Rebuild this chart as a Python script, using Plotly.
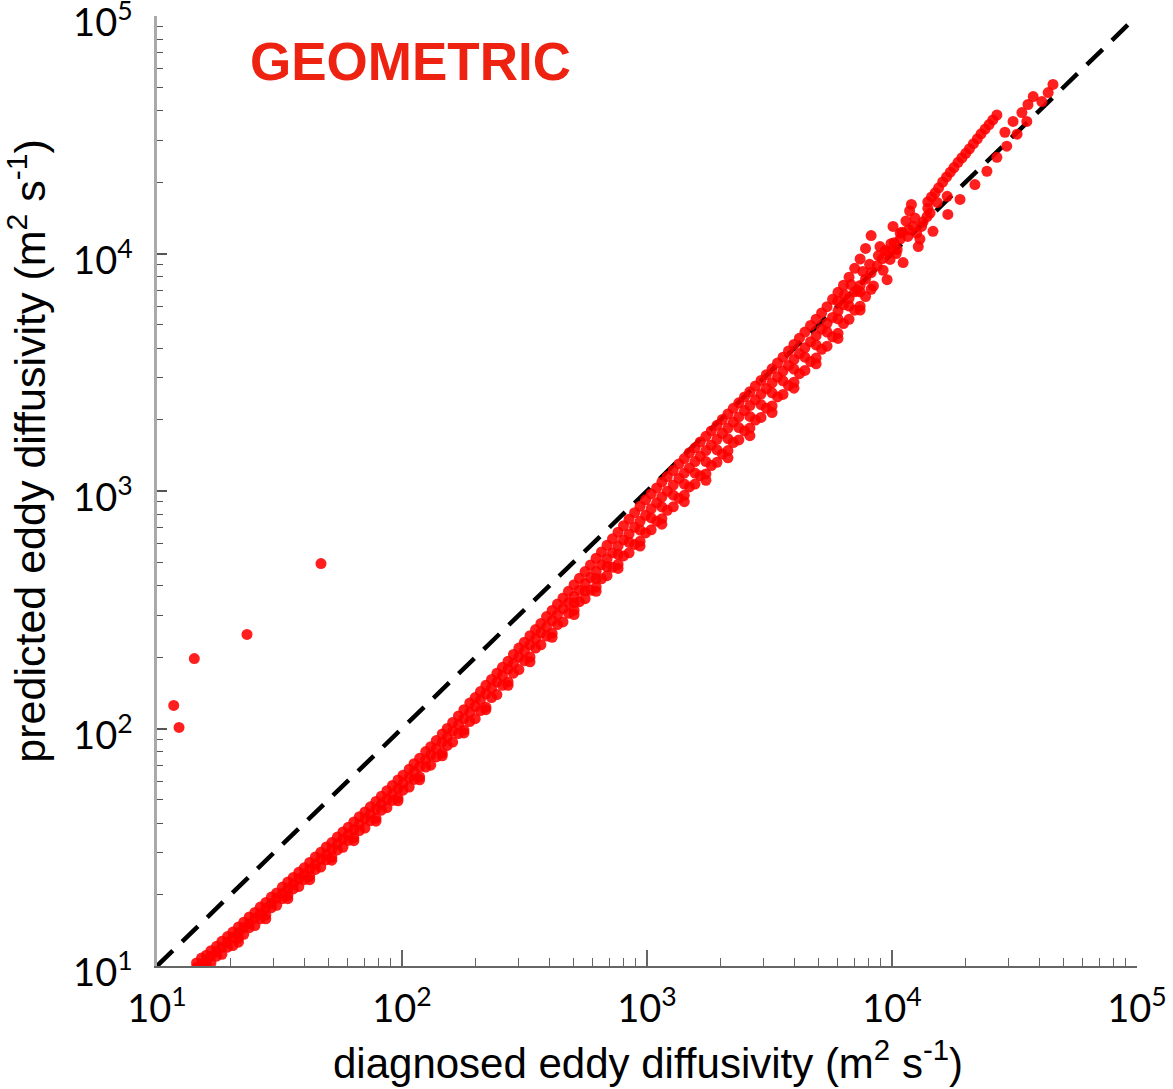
import plotly.graph_objects as go

# ---------------- data ----------------
x_grid = [14.5, 15.2, 15.9, 16.6, 17.5, 18.4, 19.4, 20.4, 21.5, 22.6,
          23.8, 25.1, 26.4, 27.8, 29.3, 30.8, 32.5, 34.2, 36.0, 37.9,
          39.9, 42.0, 44.3, 46.6, 49.1, 51.7, 54.5, 57.4, 60.4, 63.6,
          67.0, 70.6, 74.3, 78.3, 82.4, 86.8, 91.4, 96.3, 101, 107,
          112, 118, 125, 131, 138, 146, 153, 161, 170, 179,
          189, 199, 209, 220, 232, 244, 257, 271, 285, 300,
          316, 333, 351, 369, 389, 410, 431, 454, 478, 504,
          530, 559, 588, 620, 652, 687, 723, 762, 802, 845,
          890, 937, 987, 1040, 1095, 1150, 1210, 1280, 1350, 1420,
          1490, 1570, 1650, 1740, 1830, 1930, 2030, 2140, 2250, 2370,
          2500, 2630, 2770, 2920, 3070, 3240, 3410, 3590, 3780, 3980,
          4190, 4410, 4650, 4900, 5160, 5430, 5720, 6020, 6340, 6680,
          7040, 7410, 7800, 8220]

y_upper = [10.3, 10.8, 11.1, 11.6, 12.1, 12.7, 13.3, 13.9, 14.6, 15.3,
           16.1, 16.8, 17.7, 18.5, 19.5, 20.3, 21.5, 22.6, 23.6, 24.8,
           25.9, 27.3, 28.8, 30.1, 31.7, 33.1, 34.9, 36.7, 38.4, 40.4,
           42.5, 44.5, 46.8, 49.3, 51.9, 54.7, 57.6, 60.7, 63.6, 67.4,
           71.1, 74.9, 80.0, 83.8, 89.0, 94.9, 100, 106, 113, 120,
           128, 135, 143, 152, 161, 171, 181, 192, 205, 218,
           231, 246, 261, 277, 296, 314, 334, 354, 378, 403,
           429, 458, 488, 521, 554, 591, 629, 671, 714, 761,
           810, 862, 918, 972, 1030, 1090, 1150, 1220, 1300, 1370,
           1450, 1520, 1610, 1700, 1790, 1890, 2000, 2110, 2230, 2350,
           2490, 2620, 2770, 2920, 3090, 3270, 3460, 3660, 3890, 4140,
           4400, 4670, 4980, 5290, 5620, 5970, 6410, 6860, 7350, 7950,
           8660, 9480, 10500, 11900]

y_middle = [9.86, 10.2, 10.5, 11.0, 11.5, 12.0, 12.6, 13.2, 13.8, 14.5,
            15.1, 15.9, 16.6, 17.5, 18.3, 19.3, 20.2, 21.2, 22.1, 23.3,
            24.3, 25.6, 26.8, 28.2, 29.5, 31.0, 32.7, 34.2, 35.9, 37.5,
            39.5, 41.7, 43.5, 45.8, 48.2, 50.3, 53.0, 55.9, 58.6, 62.1,
            65.5, 69.0, 73.8, 77.3, 82.1, 87.6, 91.8, 97.4, 104, 110,
            117, 124, 132, 140, 148, 157, 167, 178, 188, 200,
            212, 225, 239, 253, 268, 285, 302, 320, 339, 360,
            382, 408, 432, 459, 489, 519, 549, 587, 622, 659,
            703, 745, 790, 842, 892, 943, 998, 1060, 1130, 1190,
            1250, 1330, 1400, 1480, 1560, 1650, 1750, 1840, 1950, 2050,
            2180, 2290, 2420, 2560, 2700, 2850, 3020, 3200, 3380, 3580,
            3790, 4010, 4250, 4510, 4800, 5080, 5380, 5720, 6090, 6480,
            6900, 7340, 7800, 8300]

y_lower = [9.57, 9.73, 10.0, 10.3, 11.0, 11.2, 12.0, 12.2, 13.1, 13.6,
           14.5, 14.8, 15.8, 16.4, 17.6, 18.0, 19.2, 19.8, 21.1, 21.6,
           23.1, 23.9, 25.5, 26.1, 28.0, 28.7, 30.8, 31.6, 33.8, 34.7,
           37.2, 38.1, 40.9, 41.9, 45.3, 46.4, 49.8, 51.0, 55.0, 56.7,
           61.0, 62.5, 68.8, 70.1, 75.9, 78.8, 84.9, 87.7, 95.2, 98.5,
           107, 110, 119, 123, 135, 139, 152, 157, 171, 177,
           193, 200, 218, 225, 245, 252, 274, 281, 306, 315,
           342, 352, 382, 394, 427, 440, 477, 491, 533, 549,
           596, 614, 666, 686, 745, 765, 829, 858, 932, 959,
           1040, 1070, 1160, 1180, 1280, 1320, 1430, 1480, 1600, 1640,
           1790, 1840, 1990, 2040, 2230, 2280, 2490, 2550, 2780, 2870,
           3120, 3220, 3510, 3630, 3950, 4070, 4460, 4610, 5070, 5280,
           5770, 6000, 6590, 7070]

# points between the middle and lower strands at the upper end
x_midlow = [504, 559, 620, 687, 762, 845, 937, 1040, 1150, 1280,
            1420, 1570, 1740, 1930, 2140, 2370, 2630, 2920, 3240, 3590,
            3980, 4410, 4900, 5430, 6020, 6680, 7410]
y_midlow = [338, 380, 428, 481, 541, 608, 684, 770, 857, 960,
            1070, 1190, 1330, 1490, 1660, 1850, 2060, 2310, 2590, 2910,
            3260, 3660, 4120, 4670, 5300, 6010, 6890]

# occasional points sitting below the main band
x_blob = [21.5, 27.8, 34.2, 42.0, 51.7, 63.6, 78.3, 96.3, 118, 146,
          179, 220, 271, 333, 410, 504, 620, 762, 937, 1150,
          1420, 1740, 2140, 2630, 3240, 3980, 4900, 6020, 7410]
y_blob = [12.6, 15.8, 19.2, 23.1, 27.9, 33.7, 40.7, 49.6, 60.8, 76.7,
          95.8, 120, 152, 191, 242, 302, 378, 472, 586, 725,
          902, 1110, 1380, 1710, 2140, 2710, 3430, 4390, 5780]

# short steep branch near 1e4
x_branch = [8700, 9150, 9650, 10200, 10800, 11400, 11800, 12000]
y_branch = [8870, 9520, 10200, 11100, 12200, 13700, 15100, 16100]

# upper streak beyond 1e4
x_streak = [14000, 14500, 15000, 15500, 16100, 16700, 17300, 17900, 18600, 19300,
            20000, 20700, 21500, 22300, 23100, 24000, 24900, 25800, 26800]
y_streak = [16500, 17300, 18000, 18900, 20000, 21000, 22000, 23000, 24200, 25300,
            26400, 27600, 29000, 30400, 31900, 33400, 34900, 36500, 38300]

# scattered points at the high end
x_high = [8930, 9820, 10100, 10800, 12200, 13000, 13900, 15300, 16800, 9550,
          14700, 12800, 11100, 16900, 18950, 21800, 24400, 26800, 29400, 28900,
          32400, 31200, 35500, 33900, 35900, 37700, 40900, 43400, 45400,
          9200, 10400, 11600, 12600, 13400, 14300,
          8400, 8800, 9400, 9900, 10500, 11000, 11700, 12400, 13200, 14000,
          8100, 7600, 7200, 6800, 6400, 6000]
y_high = [10700, 9440, 13000, 11500, 13000, 11500, 14300, 16400, 17400, 7760,
          12400, 10700, 9160, 14600, 16900, 19500, 22200, 25400, 28300, 32400,
          31800, 36000, 36000, 39200, 42400, 45800, 43600, 47600, 51500,
          8500, 10000, 11800, 12200, 13600, 14800,
          7300, 9800, 10300, 11000, 10400, 12300, 12600, 14100, 13000, 15500,
          9000, 8400, 7000, 7400, 6700, 6300]

# isolated outliers at low diagnosed diffusivity
x_outlier = [11.7, 12.3, 14.2, 23.3, 46.7]
y_outlier = [125, 101, 197, 249, 495]

# 1:1 reference line
x_diag = [10, 100000]
y_diag = [10, 100000]

# axis ticks
tick_vals = [10, 100, 1000, 10000, 100000]
tick_text = ["10<sup>1</sup>", "10<sup>2</sup>", "10<sup>3</sup>",
             "10<sup>4</sup>", "10<sup>5</sup>"]
minor_vals = [m * 10 ** e for e in range(1, 5) for m in range(2, 10)]

# ---------------- figure ----------------
RED = "rgba(255,0,0,0.88)"
marker = dict(color=RED, size=11, line=dict(width=0))

fig = go.Figure()
fig.add_trace(go.Scatter(x=x_diag, y=y_diag, mode="lines",
                         line=dict(color="black", width=4.5, dash="22px,13px"),
                         hoverinfo="skip", showlegend=False))
for xs, ys in [(x_blob, y_blob), (x_grid, y_lower), (x_midlow, y_midlow),
               (x_grid, y_middle), (x_grid, y_upper), (x_branch, y_branch),
               (x_streak, y_streak), (x_high, y_high), (x_outlier, y_outlier)]:
    fig.add_trace(go.Scatter(x=xs, y=ys, mode="markers", marker=marker,
                             showlegend=False))

tickfont = dict(family="Lato, 'Open Sans', sans-serif", size=38, color="black")

fig.update_xaxes(type="log", range=[1, 5], showgrid=False, zeroline=False,
                 showline=True, linecolor="#666", linewidth=2,
                 tickmode="array", tickvals=tick_vals, ticktext=tick_text,
                 ticks="inside", ticklen=16, tickwidth=1.5, tickcolor="#666",
                 tickfont=tickfont, ticklabelstandoff=8,
                 ticklabeloverflow="allow",
                 minor=dict(ticks="inside", ticklen=8, tickwidth=1.2,
                            tickcolor="#666", tickmode="array",
                            tickvals=minor_vals, showgrid=False))
fig.update_yaxes(type="log", range=[1, 5], showgrid=False, zeroline=False,
                 showline=True, linecolor="#aaa", linewidth=2.5,
                 tickmode="array", tickvals=tick_vals, ticktext=tick_text,
                 ticks="inside", ticklen=10, tickwidth=1.5, tickcolor="#555",
                 tickfont=tickfont, ticklabelstandoff=14, ticklabelshift=7,
                 ticklabeloverflow="allow",
                 minor=dict(ticks="inside", ticklen=6, tickwidth=1.2,
                            tickcolor="#555", tickmode="array",
                            tickvals=minor_vals, showgrid=False))

fig.add_annotation(text="diagnosed eddy diffusivity (m<sup>2</sup> s<sup>-1</sup>)",
                   xref="paper", yref="paper", x=0.501, y=-0.099,
                   xanchor="center", yanchor="middle", showarrow=False,
                   font=dict(family="Liberation Sans, Arial, sans-serif",
                             size=42, color="black"))
fig.add_annotation(text="predicted eddy diffusivity (m<sup>2</sup> s<sup>-1</sup>)",
                   xref="paper", yref="paper", x=-0.1325, y=0.5416,
                   xanchor="center", yanchor="middle", showarrow=False,
                   textangle=-90, font=dict(family="Liberation Sans, Arial, sans-serif",
                                            size=43, color="black"))
fig.add_annotation(text="<b>GEOMETRIC</b>", xref="paper", yref="paper",
                   x=0.259, y=0.952, xanchor="center", yanchor="middle",
                   showarrow=False,
                   font=dict(family="Liberation Sans, Arial, sans-serif",
                             size=53, color="#ee2211"))

fig.update_layout(width=1173, height=1089,
                  margin=dict(l=157, r=36, t=16, b=123, autoexpand=False),
                  paper_bgcolor="white", plot_bgcolor="white",
                  showlegend=False)

fig.write_html("out.html")
